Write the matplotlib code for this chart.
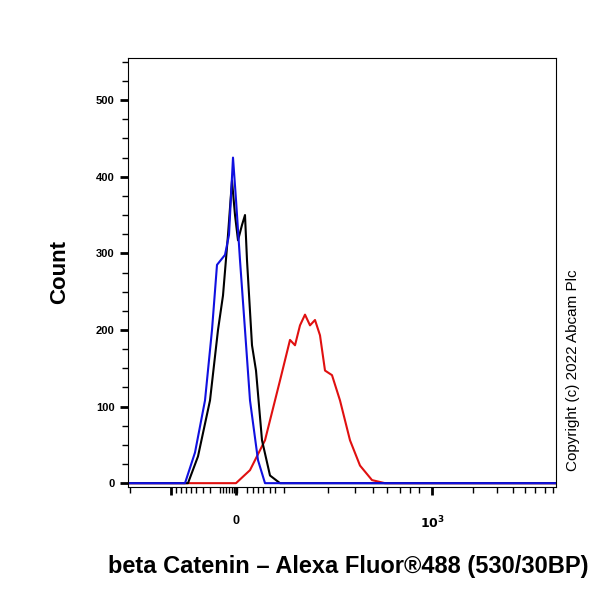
import matplotlib.pyplot as plt

plt.rcParams["font.family"] = "Liberation Sans"

# x in display-channel units (linear over the plotted biexponential scale)
blue_x = [128, 185, 195, 205, 212, 217, 225, 229, 233, 236, 240, 245, 250, 258, 265, 556]
blue_y = [0, 0, 40, 108, 200, 285, 298, 324, 425, 370, 291, 200, 108, 30, 0, 0]

black_x = [128, 188, 198, 210, 218, 223, 228, 232, 235, 238, 242, 245, 247, 252, 256, 262, 270, 280, 556]
black_y = [0, 0, 35, 108, 200, 245, 324, 395, 350, 317, 337, 350, 291, 180, 147, 56, 10, 0, 0]

red_x = [128, 236, 250, 265, 280, 290, 295, 300, 305, 310, 315, 320, 325, 332, 340, 350, 360, 372, 385, 556]
red_y = [0, 0, 17, 56, 134, 187, 180, 206, 220, 206, 213, 193, 147, 141, 108, 56, 23, 4, 0, 0]

y_major = [0, 100, 200, 300, 400, 500]
y_minor = [25, 50, 75, 125, 150, 175, 225, 250, 275, 325, 350, 375, 425, 450, 475, 525, 550]
x_major = [171, 236, 432]
x_labels = ["", "0", "$\\mathbf{10^3}$"]
x_minor = [130, 176, 181, 186, 191, 196, 203, 210, 220, 223, 226, 229, 232, 234,
           237, 247, 253, 258, 263, 270, 275, 284, 328, 355, 373, 387, 400, 410,
           419, 473, 497, 513, 525, 535, 545, 553]

fig = plt.figure(figsize=(6, 6), dpi=100)
ax = fig.add_axes([128 / 600, 1 - 487 / 600, 428 / 600, 429 / 600])
ax.plot(red_x, red_y, color="#e01010", lw=1.5)
ax.plot(black_x, black_y, color="black", lw=1.5)
ax.plot(blue_x, blue_y, color="#1010e0", lw=1.5)
ax.set_xlim(128, 556)
ax.set_ylim(-5, 555)

ax.set_yticks(y_major)
ax.set_yticks(y_minor, minor=True)
ax.set_xticks(x_major)
ax.set_xticklabels(x_labels)
ax.set_xticks(x_minor, minor=True)
ax.tick_params(which="major", length=6, width=2, labelsize=8)
ax.tick_params(which="minor", length=4, width=1)
for lab in ax.get_yticklabels() + ax.get_xticklabels():
    lab.set_fontweight("bold")
ax.tick_params(axis="x", pad=14, labelsize=9)

fig.text(60 / 600, 1 - 272 / 600, "Count", rotation=90, ha="center", va="center",
         fontsize=16, fontweight="bold")
fig.text(348 / 600, 1 - 566 / 600, "beta Catenin \u2013 Alexa Fluor\u00ae488 (530/30BP)",
         ha="center", va="center", fontsize=17, fontweight="bold")
fig.text(573 / 600, 1 - 370 / 600, "Copyright (c) 2022 Abcam Plc", rotation=90,
         ha="center", va="center", fontsize=11)

fig.savefig("out.png")
